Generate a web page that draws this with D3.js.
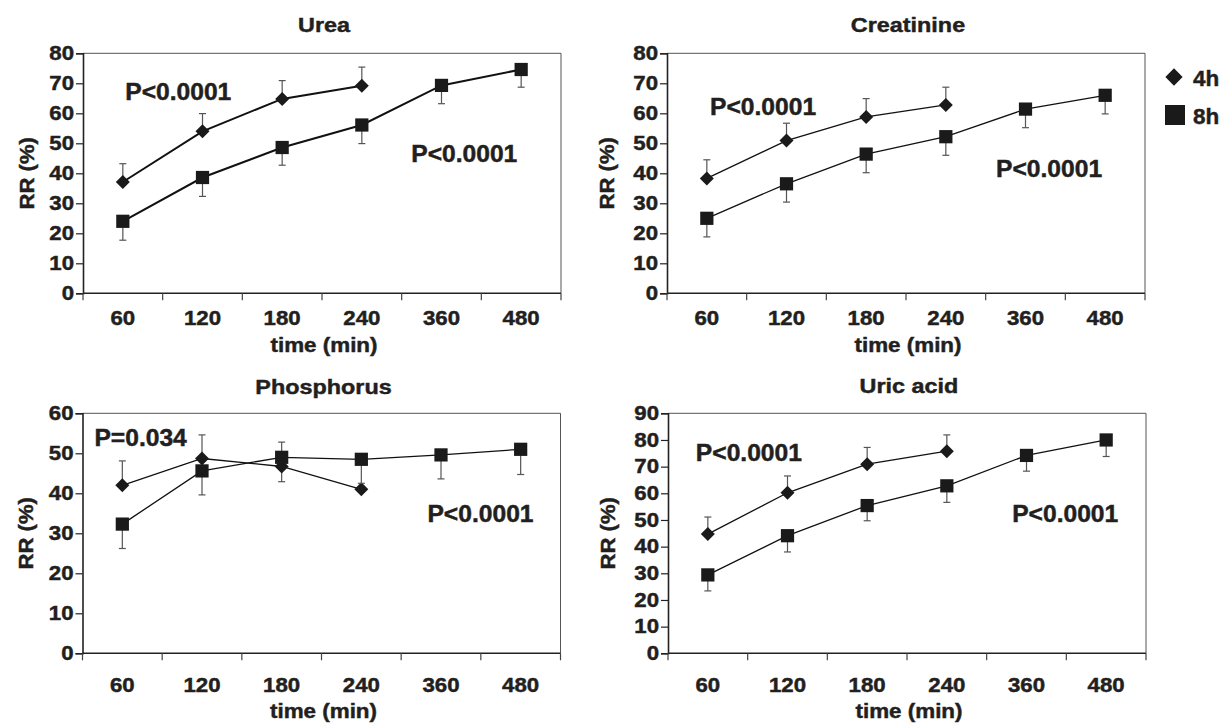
<!DOCTYPE html>
<html>
<head>
<meta charset="utf-8">
<script src="https://cdn.jsdelivr.net/npm/d3@7"></script>
<style>
  body { margin: 0; background: #fff; }
  text { font-family: "Liberation Sans", Arial, sans-serif; font-weight: bold; fill: #231f20;
         stroke: #231f20; stroke-width: 0.45px; }
</style>
</head>
<body>
<svg id="chart" width="1224" height="725"></svg>
<script>
// categories on the x axis (time, min)
const times = ["60", "120", "180", "240", "360", "480"];
const times4h = ["60", "120", "180", "240"];

// values (RR %), and the end of each error bar
const urea4h = [37.1, 54.0, 64.8, 69.2];
const urea4hErr = [43.2, 59.9, 70.9, 75.4];
const urea8h = [24.0, 38.6, 48.6, 56.1, 69.3, 74.6];
const urea8hErr = [17.7, 32.3, 42.7, 49.9, 63.2, 68.7];

const creat4h = [38.3, 50.9, 58.8, 62.8];
const creat4hErr = [44.5, 56.7, 64.9, 68.7];
const creat8h = [25.0, 36.5, 46.4, 52.2, 61.4, 66.0];
const creat8hErr = [18.8, 30.4, 40.2, 46.0, 55.2, 59.8];

const phos4h = [42.0, 48.7, 46.7, 41.0];
const phos4hErr = [48.1, 54.6, 42.9, null];
const phos8h = [32.3, 45.6, 49.0, 48.5, 49.6, 51.0];
const phos8hErr = [26.2, 39.6, 52.8, 42.5, 43.6, 44.7];

const uric4h = [44.7, 60.2, 70.9, 75.8];
const uric4hErr = [51.1, 66.5, 77.2, 81.9];
const uric8h = [29.4, 44.1, 55.4, 62.8, 74.2, 80.0];
const uric8hErr = [23.4, 38.0, 49.7, 56.6, 68.3, 73.8];

// y tick labels
const ticks80 = [0, 10, 20, 30, 40, 50, 60, 70, 80];
const ticks60 = [0, 10, 20, 30, 40, 50, 60];
const ticks90 = [0, 10, 20, 30, 40, 50, 60, 70, 80, 90];

const legendLabels = ["4h", "8h"];

const panels = [
  { title: "Urea", left: 83, top: 53.3, ymax: 80, yticks: ticks80,
    s4: urea4h, e4: urea4hErr, s8: urea8h, e8: urea8hErr, lw: 2,
    notes: [{ text: "P<0.0001", bx: 0.53, y: 64.3 }, { text: "P<0.0001", bx: 4.12, y: 43.8 }],
    labelDy: 31.7, titleDy: -21, timeDy: 59, rrX: 34 },
  { title: "Creatinine", left: 667, top: 53.3, ymax: 80, yticks: ticks80,
    s4: creat4h, e4: creat4hErr, s8: creat8h, e8: creat8hErr, lw: 1.3,
    notes: [{ text: "P<0.0001", bx: 0.54, y: 59.4 }, { text: "P<0.0001", bx: 4.13, y: 38.9 }],
    labelDy: 31.7, titleDy: -21, timeDy: 59, rrX: 614 },
  { title: "Phosphorus", left: 82.5, top: 413.3, ymax: 60, yticks: ticks60,
    s4: phos4h, e4: phos4hErr, s8: phos8h, e8: phos8hErr, lw: 1.3,
    notes: [{ text: "P=0.034", bx: 0.15, y: 51.9 }, { text: "P<0.0001", bx: 4.33, y: 32.9 }],
    labelDy: 38.3, titleDy: -19.5, timeDy: 65, rrX: 33 },
  { title: "Uric acid", left: 668, top: 413.3, ymax: 90, yticks: ticks90,
    s4: uric4h, e4: uric4hErr, s8: uric8h, e8: uric8hErr, lw: 1.3,
    notes: [{ text: "P<0.0001", bx: 0.35, y: 72.2 }, { text: "P<0.0001", bx: 4.32, y: 49.3 }],
    labelDy: 38.3, titleDy: -20.5, timeDy: 65, rrX: 615 }
];

const plotW = 478, plotH = 240;
const svg = d3.select("#chart");

const diamond = d3.symbol().type(d3.symbolDiamond2).size(125);
const square = d3.symbol().type(d3.symbolSquare).size(175);

// the figure's lettering is a little wider than Liberation Sans, so stretch it
function stretch(sel, k) {
  sel.each(function() {
    const w = this.getComputedTextLength();
    d3.select(this).attr("textLength", w * k).attr("lengthAdjust", "spacingAndGlyphs");
  });
}

panels.forEach(p => {
  const g = svg.append("g").attr("transform", `translate(${p.left},${p.top})`);

  const x = d3.scaleBand().domain(times).range([0, plotW]);
  const y = d3.scaleLinear().domain([0, p.ymax]).range([plotH, 0]);

  // top and right frame
  g.append("path")
    .attr("d", `M0,0H${plotW}V${plotH}`)
    .attr("fill", "none").attr("stroke", "#555").attr("stroke-width", 1);

  // y axis
  const ya = g.append("g").call(d3.axisLeft(y).tickValues(p.yticks).tickSize(7).tickPadding(2));
  ya.attr("font-size", null).attr("font-family", null);
  ya.select(".domain").attr("stroke", "#222").attr("stroke-width", 1.6);
  ya.selectAll(".tick line").attr("stroke", "#222").attr("stroke-width", 1.2);
  ya.selectAll(".tick text").style("font-size", "19.5px").attr("fill", "#231f20")
    .call(stretch, 1.14);

  // x axis: ticks at the band edges, labels at the centres
  const xa = g.append("g").attr("transform", `translate(0,${plotH})`);
  xa.append("line").attr("x1", 0).attr("x2", plotW).attr("stroke", "#222").attr("stroke-width", 1.6);
  const edges = times.map(t => x(t)).concat([plotW]);
  xa.selectAll(".edge").data(edges).enter().append("line")
    .attr("x1", d => d).attr("x2", d => d).attr("y1", 0).attr("y2", 7)
    .attr("stroke", "#444").attr("stroke-width", 1.2);
  g.selectAll(".xl").data(times).enter().append("text")
    .attr("x", d => x(d) + x.bandwidth() / 2).attr("y", plotH + p.labelDy)
    .attr("text-anchor", "middle").style("font-size", "19.5px").text(d => d)
    .call(stretch, 1.14);

  g.append("text").attr("x", plotW / 2 + 2).attr("y", p.titleDy)
    .attr("text-anchor", "middle").style("font-size", "20.5px").text(p.title)
    .call(stretch, 1.14);
  g.append("text").attr("x", plotW / 2 + 2).attr("y", plotH + p.timeDy)
    .attr("text-anchor", "middle").style("font-size", "20px").text("time (min)")
    .call(stretch, 1.12);
  svg.append("text")
    .attr("transform", `translate(${p.rrX},${p.top + plotH / 2}) rotate(-90)`)
    .attr("text-anchor", "middle").style("font-size", "21px").text("RR (%)")
    .call(stretch, 1.05);

  const cx = t => x(t) + x.bandwidth() / 2;
  const series = [
    { cats: times4h, vals: p.s4, errs: p.e4, sym: diamond },
    { cats: times, vals: p.s8, errs: p.e8, sym: square }
  ];

  series.forEach(s => {
    const pts = s.cats.map((c, i) => ({ c: c, v: s.vals[i], e: s.errs[i] }));
    // error bars
    const eb = g.append("g").attr("stroke", "#555").attr("stroke-width", 1.2);
    pts.filter(d => d.e != null).forEach(d => {
      eb.append("line").attr("x1", cx(d.c)).attr("x2", cx(d.c)).attr("y1", y(d.v)).attr("y2", y(d.e));
      eb.append("line").attr("x1", cx(d.c) - 3.5).attr("x2", cx(d.c) + 3.5).attr("y1", y(d.e)).attr("y2", y(d.e));
    });
    g.append("path").datum(pts)
      .attr("d", d3.line().x(d => cx(d.c)).y(d => y(d.v)))
      .attr("fill", "none").attr("stroke", "#111").attr("stroke-width", p.lw);
    g.selectAll(null).data(pts).enter().append("path")
      .attr("transform", d => `translate(${cx(d.c)},${y(d.v)})`)
      .attr("d", s.sym).attr("fill", "#1a1a1a");
  });

  // P-value notes, placed in band units / data units
  p.notes.forEach(n => {
    g.append("text").attr("x", n.bx * x.step()).attr("y", y(n.y))
      .style("font-size", "23px").text(n.text)
      .call(stretch, 1.07);
  });
});

// legend
const leg = svg.append("g").attr("transform", "translate(1174,77)");
const legSyms = [d3.symbol().type(d3.symbolDiamond2).size(190), d3.symbol().type(d3.symbolSquare).size(400)];
legendLabels.forEach((l, i) => {
  leg.append("path").attr("transform", `translate(${i === 0 ? 0 : 1},${i * 38})`)
    .attr("d", legSyms[i]).attr("fill", "#1a1a1a");
  leg.append("text").attr("x", 19).attr("y", i * 38 + 8.5).style("font-size", "22.5px").text(l);
});
</script>
</body>
</html>
